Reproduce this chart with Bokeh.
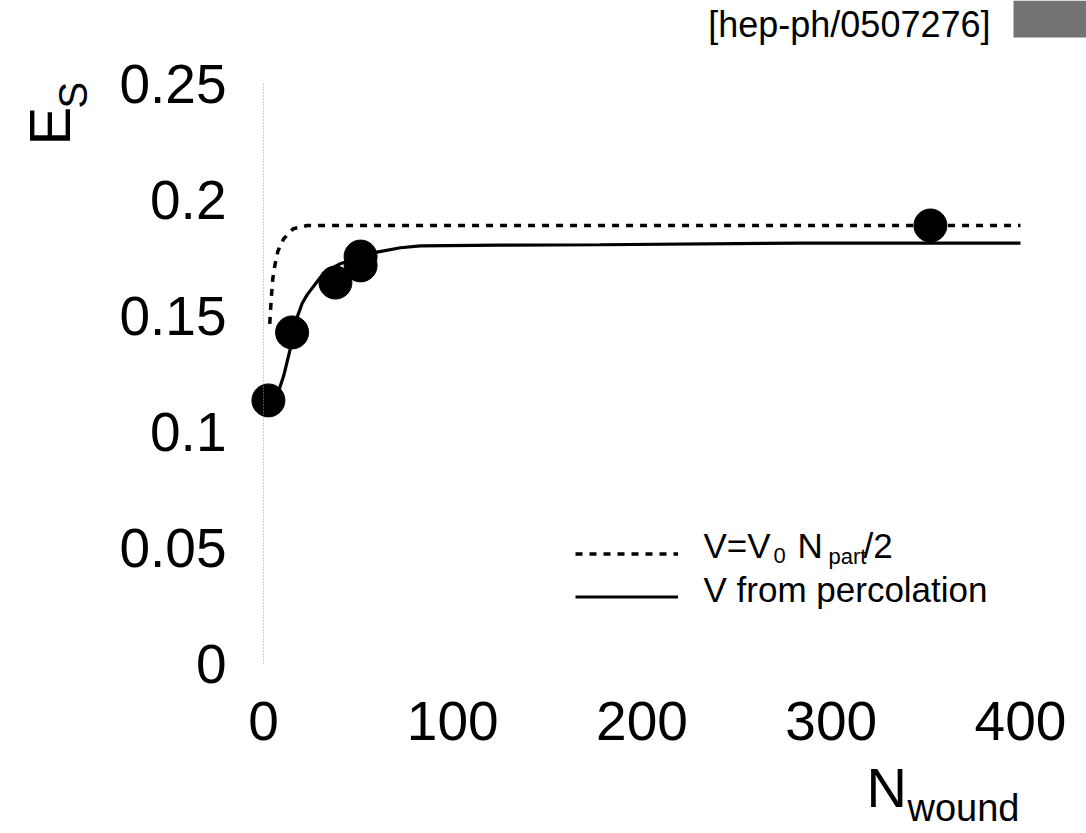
from bokeh.plotting import figure
from bokeh.models import Range1d, FixedTicker, Label, Legend, LegendItem, BoxAnnotation
from bokeh.embed import file_html
from bokeh.resources import INLINE
import math

# ---------------- data ----------------
x_ticks = [0, 100, 200, 300, 400]
x_tick_labels = ["0", "100", "200", "300", "400"]
y_ticks = [0.0, 0.05, 0.10, 0.15, 0.20, 0.25]
y_tick_labels = ["0", "0.05", "0.1", "0.15", "0.2", "0.25"]

# dotted curve: V = V0 Npart/2
dotted_x = [3.3, 3.8, 4.3, 4.9, 6.0, 7.6, 10.7, 15.7, 23.1, 40, 100, 200, 300, 400]
dotted_y = [0.1464, 0.1533, 0.1594, 0.1658, 0.1716, 0.1777, 0.1831, 0.1874, 0.1888,
            0.1888, 0.1888, 0.1888, 0.1888, 0.1888]

# solid curve: V from percolation
solid_x = [3.5, 8.1, 10.7, 14.3, 17.8, 20.4, 23.1, 30.1, 35.4, 40.6, 50, 60, 72.4,
           83, 125, 178, 283, 400]
solid_y = [0.1125, 0.1177, 0.1241, 0.1362, 0.1493, 0.1552, 0.1590, 0.1665, 0.1701,
           0.1723, 0.1750, 0.1773, 0.1792, 0.1800, 0.1803, 0.1805, 0.1812, 0.1812]

# data points
pts_x = [2.6, 15.1, 38.0, 51.3, 51.3, 352.4]
pts_y = [0.1134, 0.1427, 0.1642, 0.1716, 0.1754, 0.1888]

FONT = "Liberation Sans"

# canvas and where the axes box sits inside it (pixels)
W, H = 1086, 833
L, R, T, B = 263, 66, 83, 170
X0, X1 = 0, 400
Y0, Y1 = 0.0, 0.25
sx = (W - L - R) / (X1 - X0)
sy = (H - T - B) / (Y1 - Y0)


def px_x(px):
    return X0 + (px - L) / sx


def px_y(py):
    return Y0 + (H - B - py) / sy


# the frame covers the whole canvas; the axes are pinned at x=0 / y=0
p = figure(width=W, height=H,
           x_range=Range1d(px_x(0), px_x(W)), y_range=Range1d(px_y(H), px_y(0)),
           output_backend="svg", toolbar_location=None, title=None,
           min_border_left=0, min_border_right=0, min_border_top=0, min_border_bottom=0)
p.outline_line_color = None
p.grid.visible = False
p.background_fill_color = "white"
p.border_fill_color = "white"

# axes
p.xaxis.fixed_location = Y0
p.yaxis.fixed_location = X0
p.xaxis.ticker = FixedTicker(ticks=x_ticks)
p.xaxis.major_label_overrides = dict(zip(x_ticks, x_tick_labels))
p.yaxis.ticker = FixedTicker(ticks=y_ticks)
p.yaxis.major_label_overrides = dict(zip(y_ticks, y_tick_labels))
p.xaxis.bounds = (X0, X1)
p.yaxis.bounds = (Y0, Y1)
for ax in (p.xaxis, p.yaxis):
    ax.major_tick_line_color = None
    ax.minor_tick_line_color = None
    ax.major_label_text_font = FONT
    ax.major_label_text_font_size = "55px"
    ax.major_label_text_color = "black"
p.xaxis.axis_line_color = None
p.xaxis.major_label_standoff = 32
p.yaxis.axis_line_color = "#9a9a9a"
p.yaxis.axis_line_width = 1
p.yaxis.axis_line_dash = "1 2"
p.yaxis.major_label_standoff = 31

# curves
r_dot = p.line(dotted_x, dotted_y, line_color="black", line_width=3.5, line_dash="7 7")
r_sol = p.line(solid_x, solid_y, line_color="black", line_width=3.2)
p.scatter(pts_x, pts_y, size=33, marker="circle", fill_color="black", line_color="black")

# legend samples (labels drawn separately because of subscripts)
legend = Legend(items=[LegendItem(label=" ", renderers=[r_dot]),
                       LegendItem(label=" ", renderers=[r_sol])],
                location=(575, H - 617.5), glyph_width=103, glyph_height=43,
                label_height=43, label_width=0, label_standoff=0, spacing=0,
                padding=0, margin=0, label_text_font_size="8px",
                border_line_color=None, background_fill_alpha=0)
p.add_layout(legend)

SHIFT = 0.37  # measured offset of the rendered baseline, in em


def lab(text, x, y, size, align="left", rotated=False):
    if rotated:
        ax_, ay_, ang = x - SHIFT * size, y, math.pi / 2
    else:
        ax_, ay_, ang = x, y - SHIFT * size, 0.0
    p.add_layout(Label(x=px_x(ax_), y=px_y(ay_), text=text, text_font=FONT,
                       text_font_size=f"{size}px", text_color="black",
                       text_align=align, text_baseline="alphabetic", angle=ang))


# legend texts (x = left edge, y = baseline, in pixels)
lab("V=V", 703, 558, 35)
lab("0", 773, 563, 22)
lab("N", 797, 558, 35)
lab("part", 828, 564, 22)
lab("/2", 863, 558, 35)
lab("V from percolation", 703, 602, 35)

# axis titles
lab("E", 70, 145, 58, rotated=True)
lab("S", 87, 108, 40, rotated=True)
lab("N", 866, 808, 56)
lab("wound", 907, 822, 38)

# reference tag and scanned stamp
lab("[hep-ph/0507276]", 990, 37, 36, align="right")
p.add_layout(BoxAnnotation(left=px_x(1013), right=px_x(W), top=px_y(0), bottom=px_y(37),
                           fill_color="#737373", fill_alpha=1.0, line_color=None))

open("out.html", "w").write(file_html(p, INLINE))
